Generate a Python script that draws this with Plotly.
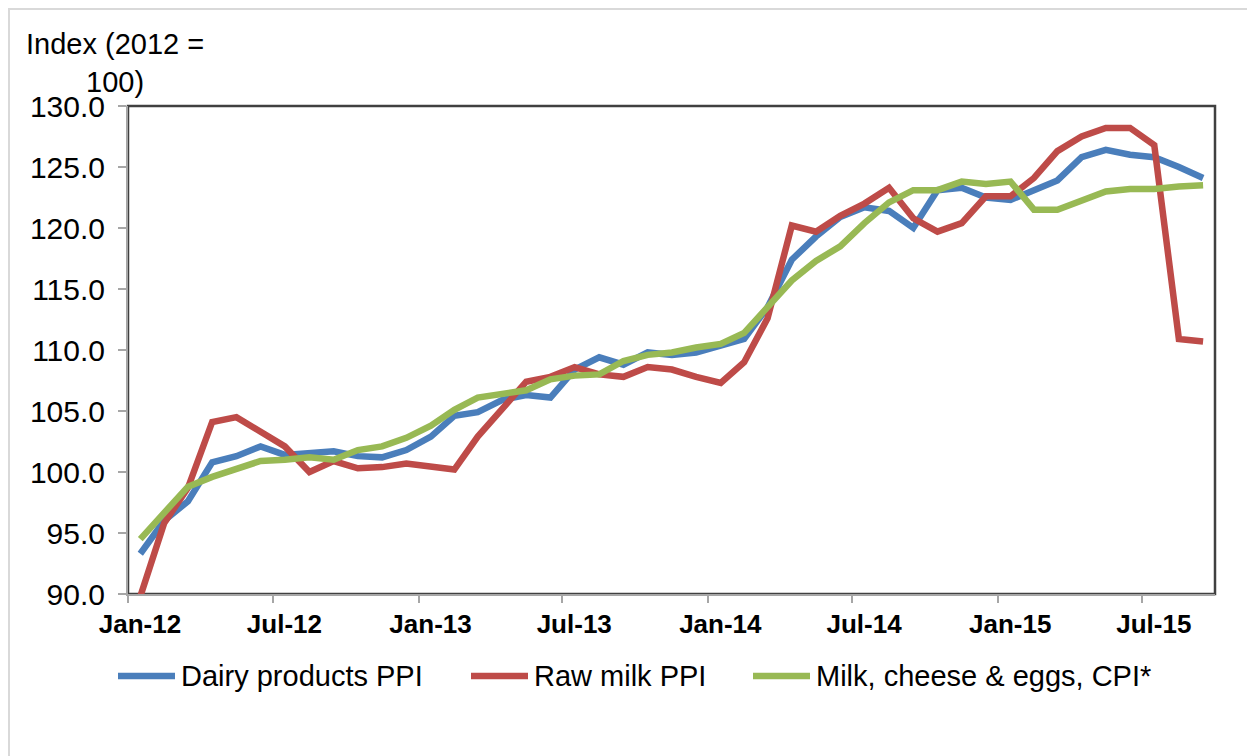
import pandas as pd
import plotly.graph_objects as go

FONT = "Liberation Sans, Arial, sans-serif"
BLUE = "#4A7EBB"
RED = "#BE4B48"
GREEN = "#98B954"
AXIS_GRAY = "#A6A6A6"
FRAME_DARK = "#404040"

# monthly observations, Jan 2012 .. Sep 2015
FIRST_MONTH = "2012-01-01"
N_MONTHS = 45

dairy_ppi = [
    93.3, 96.0, 97.6, 100.8, 101.3, 102.1, 101.4, 101.5, 101.7, 101.3, 101.2, 101.8,
    102.9, 104.6, 104.9, 105.9, 106.3, 106.1, 108.4, 109.4, 108.8, 109.8, 109.6, 109.8,
    110.4, 110.9, 113.5, 117.4, 119.3, 120.9, 121.7, 121.4, 120.0, 123.1, 123.3, 122.5,
    122.3, 123.1, 123.9, 125.8, 126.4, 126.0, 125.8, 125.0, 124.1,
]
raw_milk_ppi = [
    89.8, 95.8, 98.7, 104.1, 104.5, 103.3, 102.1, 100.0, 100.9, 100.3, 100.4, 100.7,
    100.5, 100.2, 102.9, 105.2, 107.4, 107.8, 108.6, 108.0, 107.8, 108.6, 108.4, 107.8,
    107.3, 109.0, 112.6, 120.2, 119.7, 121.0, 122.0, 123.3, 120.8, 119.7, 120.4, 122.6,
    122.6, 124.1, 126.3, 127.5, 128.2, 128.2, 126.8, 110.9, 110.7,
]
milk_cheese_eggs_cpi = [
    94.5, 96.7, 98.8, 99.6, 100.3, 100.9, 101.0, 101.2, 101.0, 101.8, 102.1, 102.8,
    103.8, 105.1, 106.1, 106.4, 106.7, 107.6, 107.9, 108.0, 109.1, 109.6, 109.8, 110.2,
    110.5, 111.4, 113.6, 115.7, 117.3, 118.5, 120.4, 122.1, 123.1, 123.1, 123.8, 123.6,
    123.8, 121.5, 121.5, 122.2, 123.0, 123.2, 123.2, 123.4, 123.5,
]

series = [
    ("Dairy products PPI", dairy_ppi, BLUE),
    ("Raw milk PPI", raw_milk_ppi, RED),
    ("Milk, cheese & eggs, CPI*", milk_cheese_eggs_cpi, GREEN),
]

# figure geometry (the page adds an 8px body margin around the figure)
WIDTH, HEIGHT = 1247, 748
MARGIN = dict(l=120, r=40, t=98, b=162)
PLOT_W = WIDTH - MARGIN["l"] - MARGIN["r"]
PLOT_H = HEIGHT - MARGIN["t"] - MARGIN["b"]


def _px(x, y):
    """Figure pixel position -> paper coordinates."""
    return (x - MARGIN["l"]) / PLOT_W, (HEIGHT - MARGIN["b"] - y) / PLOT_H


months = pd.date_range(FIRST_MONTH, periods=N_MONTHS, freq="MS")

fig = go.Figure()
for name, values, color in series:
    fig.add_trace(
        go.Scatter(
            x=months,
            y=values,
            name=name,
            mode="lines",
            xperiod="M1",
            xperiodalignment="middle",
            line=dict(color=color, width=6.5),
            showlegend=False,
        )
    )

# hand-placed legend, Excel style (long line samples)
legend_slots = [(110, 167), (463, 520), (745, 802)]
legend_y = 668
shapes = [
    dict(type="rect", xref="paper", yref="paper",
         x0=_px(1, 0)[0], x1=1.2, y0=-0.5, y1=_px(0, 1)[1],
         line=dict(color="#D9D9D9", width=2), layer="below"),
    dict(type="rect", xref="paper", yref="paper",
         x0=0, x1=1, y0=0, y1=1,
         line=dict(color=FRAME_DARK, width=2.5), layer="below"),
]
annotations = []
for (name, _, color), (x_start, x_end) in zip(series, legend_slots):
    x0, y0 = _px(x_start, legend_y)
    x1, _ = _px(x_end, legend_y)
    shapes.append(dict(type="line", xref="paper", yref="paper",
                       x0=x0, x1=x1, y0=y0, y1=y0,
                       line=dict(color=color, width=6.5)))
    annotations.append(dict(text=name, xref="paper", yref="paper",
                            x=_px(x_end + 4, legend_y)[0], y=y0,
                            xanchor="left", yanchor="middle", showarrow=False,
                            font=dict(size=29)))

tx, ty = _px(107, 55)
annotations.append(
    dict(text="Index (2012 =<br>100)", xref="paper", yref="paper",
         x=tx, y=ty, xanchor="center", yanchor="middle",
         showarrow=False, align="center", font=dict(size=29))
)

fig.update_layout(
    width=WIDTH,
    height=HEIGHT,
    paper_bgcolor="white",
    plot_bgcolor="white",
    font=dict(family=FONT, color="black", size=29),
    margin=dict(**MARGIN, autoexpand=False),
    showlegend=False,
    shapes=shapes,
    annotations=annotations,
)

fig.update_xaxes(
    type="date",
    range=["2012-01-01", "2015-10-01"],
    tick0="2012-01-16",
    dtick="M6",
    tickformat="%b-%y",
    ticks="",
    ticklabelstandoff=6,
    tickfont=dict(size=26, family=FONT, weight="bold"),
    showgrid=False,
    zeroline=False,
    showline=True,
    linecolor=AXIS_GRAY,
    linewidth=2,
    automargin=False,
    minor=dict(tick0="2012-01-01", dtick="M6", ticks="outside",
               ticklen=7, tickcolor=AXIS_GRAY, tickwidth=2, showgrid=False),
)
fig.update_yaxes(
    range=[90, 130],
    dtick=5,
    tickformat=".1f",
    ticks="outside",
    ticklen=8,
    tickcolor=AXIS_GRAY,
    tickwidth=2,
    ticklabelstandoff=7,
    tickfont=dict(size=30),
    showgrid=False,
    zeroline=False,
    showline=True,
    linecolor=AXIS_GRAY,
    linewidth=2,
    automargin=False,
)

fig.write_html("out.html")
